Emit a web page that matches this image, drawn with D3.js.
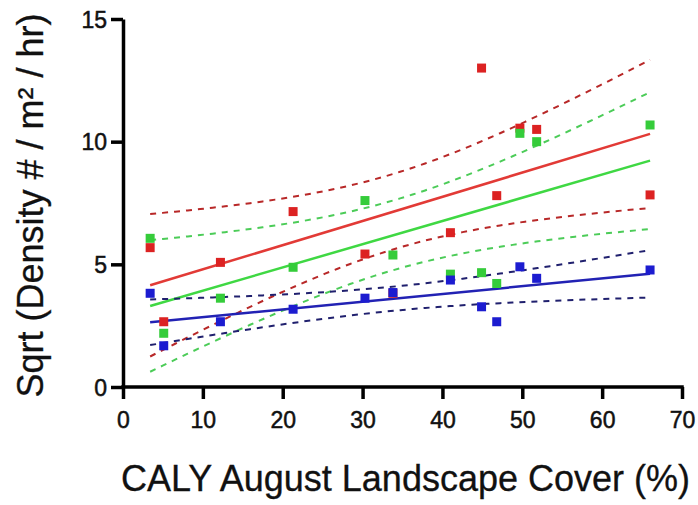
<!DOCTYPE html>
<html>
<head>
<meta charset="utf-8">
<script src="https://cdn.jsdelivr.net/npm/d3@7"></script>
<style>
  body { margin: 0; background: #fff; }
  svg { display: block; font-family: "Liberation Sans", Arial, sans-serif; }
  .tick-label { font-size: 23px; fill: #111; stroke: #111; stroke-width: 0.5px; }
  .axis-title { font-size: 36px; fill: #111; stroke: #111; stroke-width: 0.3px; }
</style>
</head>
<body>
<div id="chart"></div>
<script>
// landscape cover (%) per site
const coverX = [3.4, 5.1, 12.2, 21.3, 30.3, 33.8, 41.0, 44.9, 46.8, 49.7, 51.8, 66.0];
// sqrt density per series
const redY   = [5.68, 2.66, 5.08, 7.15, 5.42, 3.82, 6.29, 13.0, 7.80, 10.55, 10.5, 7.83];
const greenY = [6.06, 2.19, 3.62, 4.88, 7.60, 5.38, 4.60, 4.66, 4.22, 10.34, 10.0, 10.68];
const blueY  = [3.82, 1.68, 2.66, 3.17, 3.62, 3.85, 4.36, 3.27, 2.66, 4.90, 4.43, 4.77];

const xTicks = [0, 10, 20, 30, 40, 50, 60, 70];
const yTicks = [0, 5, 10, 15];

const series = [
  { name: 'red', ys: redY, point: '#dc2222', line: '#e23a36', band: '#b82828' },
  { name: 'green', ys: greenY, point: '#35cc3a', line: '#3fd843', band: '#4ccc58' },
  { name: 'blue', ys: blueY, point: '#1c1cd0', line: '#2222b4', band: '#20206e' }
];

const width = 698;
const height = 505;
const marginLeft = 123;
const marginRight = 16;
const marginTop = 19;
const marginBottom = 118;

const scaleX = d3.scaleLinear().domain([0, 70]).range([marginLeft, width - marginRight]);
const scaleY = d3.scaleLinear().domain([0, 15]).range([height - marginBottom, marginTop]);

// least squares fit with 95% confidence band
function fit(xs, ys) {
  const n = xs.length;
  const mx = d3.mean(xs);
  const my = d3.mean(ys);
  const sxx = d3.sum(xs, x => (x - mx) * (x - mx));
  const sxy = d3.sum(xs, (x, i) => (x - mx) * (ys[i] - my));
  const slope = sxy / sxx;
  const icpt = my - slope * mx;
  const ssres = d3.sum(xs, (x, i) => Math.pow(ys[i] - (icpt + slope * x), 2));
  const s = Math.sqrt(ssres / (n - 2));
  const t = 2.228; // t(0.975, df = 10)
  return {
    y: x => icpt + slope * x,
    half: x => t * s * Math.sqrt(1 / n + (x - mx) * (x - mx) / sxx)
  };
}

const svg = d3.select('#chart').append('svg')
  .attr('width', width)
  .attr('height', height);

const xMin = d3.min(coverX);
const xMax = d3.max(coverX);
const xs = d3.range(0, 41).map(i => xMin + (xMax - xMin) * i / 40);

const line = d3.line().x(d => scaleX(d[0])).y(d => scaleY(d[1]));

const $vis = svg.append('g');

series.forEach(s => {
  const f = fit(coverX, s.ys);
  const g = $vis.append('g').attr('class', `fit-${s.name}`);
  g.append('path')
    .attr('d', line(xs.map(x => [x, f.y(x) + f.half(x)])))
    .attr('fill', 'none').attr('stroke', s.band).attr('stroke-width', 2)
    .attr('stroke-dasharray', '6,6');
  g.append('path')
    .attr('d', line(xs.map(x => [x, f.y(x) - f.half(x)])))
    .attr('fill', 'none').attr('stroke', s.band).attr('stroke-width', 2)
    .attr('stroke-dasharray', '6,6');
  g.append('path')
    .attr('d', line([[xMin, f.y(xMin)], [xMax, f.y(xMax)]]))
    .attr('fill', 'none').attr('stroke', s.line).attr('stroke-width', 2.5);
});

series.forEach(s => {
  $vis.append('g')
    .selectAll('rect')
    .data(coverX.map((x, i) => [x, s.ys[i]]))
    .join('rect')
    .attr('x', d => scaleX(d[0]) - 4.5)
    .attr('y', d => scaleY(d[1]) - 4.5)
    .attr('width', 9)
    .attr('height', 9)
    .attr('fill', s.point);
});

// axes
const xAxis = d3.axisBottom(scaleX).tickValues(xTicks).tickSize(12).tickSizeOuter(0).tickFormat(d3.format('d'));
const yAxis = d3.axisLeft(scaleY).tickValues(yTicks).tickSize(12).tickSizeOuter(0).tickFormat(d3.format('d'));

const $xAxis = svg.append('g')
  .attr('transform', `translate(0, ${height - marginBottom})`)
  .call(xAxis);
const $yAxis = svg.append('g')
  .attr('transform', `translate(${marginLeft}, 0)`)
  .call(yAxis);

[$xAxis, $yAxis].forEach($a => {
  $a.select('.domain').attr('stroke', '#000').attr('stroke-width', 3.5);
  $a.selectAll('.tick line').attr('stroke', '#000').attr('stroke-width', 3.5);
  $a.selectAll('.tick text')
    .attr('class', 'tick-label')
    .attr('font-size', null)
    .attr('font-family', null)
    .attr('fill', null);
});
$xAxis.select('.domain').attr('d', `M${marginLeft - 1.75},0H${width - marginRight + 1.75}`);
$xAxis.selectAll('.tick text').attr('y', 25).attr('dy', '0.71em');
$yAxis.selectAll('.tick text').attr('x', -16).attr('dy', '0.36em');

svg.append('text')
  .attr('class', 'axis-title')
  .attr('x', 121)
  .attr('y', 491)
  .text('CALY August Landscape Cover (%)');

svg.append('text')
  .attr('class', 'axis-title')
  .attr('transform', `translate(43, ${(13 + 398) / 2}) rotate(-90)`)
  .attr('text-anchor', 'middle')
  .text('Sqrt (Density # / m² / hr)');
</script>
</body>
</html>
